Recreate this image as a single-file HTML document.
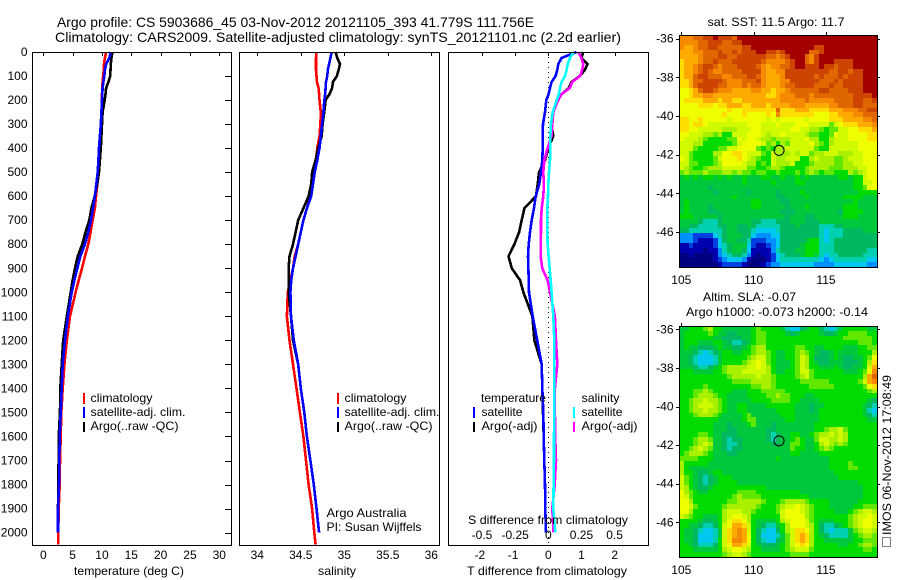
<!DOCTYPE html>
<html lang="en">
<head>
<meta charset="utf-8">
<title>Argo profile CS 5903686_45</title>
<style>
html,body{margin:0;padding:0;background:#fff;}
svg{display:block;}
text{font-family:"Liberation Sans",sans-serif;font-size:12px;fill:#000;}
.title{font-size:14px;}
</style>
</head>
<body>
<svg id="chart" xmlns="http://www.w3.org/2000/svg" width="900" height="580" viewBox="0 0 900 580">
  <text class="title" x="57" y="27" textLength="477" lengthAdjust="spacingAndGlyphs">Argo profile: CS 5903686_45 03-Nov-2012 20121105_393 41.779S 111.756E</text>
  <text class="title" x="55" y="42" textLength="566" lengthAdjust="spacingAndGlyphs">Climatology: CARS2009. Satellite-adjusted climatology: synTS_20121101.nc (2.2d earlier)</text>

  <g id="sstMap"></g>
  <g id="slaMap"></g>
  <g id="tempPanel"></g>
  <g id="salPanel"></g>
  <g id="diffPanel"></g>

  <text x="74" y="575" textLength="110" lengthAdjust="spacingAndGlyphs">temperature (deg C)</text>
  <text x="318" y="575" textLength="38" lengthAdjust="spacingAndGlyphs">salinity</text>
  <text x="467" y="575" textLength="160" lengthAdjust="spacingAndGlyphs">T difference from climatology</text>
  <text x="468" y="524" textLength="160" lengthAdjust="spacingAndGlyphs">S difference from climatology</text>

  <g>
    <rect x="83" y="393" width="2" height="11" fill="#f00"/>
    <rect x="83" y="407" width="2" height="11" fill="#00f"/>
    <rect x="83" y="422" width="2" height="10" fill="#000"/>
    <text x="90.5" y="402" textLength="62" lengthAdjust="spacingAndGlyphs">climatology</text>
    <text x="90.5" y="416" textLength="95" lengthAdjust="spacingAndGlyphs">satellite-adj. clim.</text>
    <text x="90.5" y="430" textLength="88" lengthAdjust="spacingAndGlyphs">Argo(..raw -QC)</text>
  </g>
  <g>
    <rect x="337" y="393" width="2" height="11" fill="#f00"/>
    <rect x="337" y="407" width="2" height="11" fill="#00f"/>
    <rect x="337" y="422" width="2" height="10" fill="#000"/>
    <text x="344.5" y="402" textLength="62" lengthAdjust="spacingAndGlyphs">climatology</text>
    <text x="344.5" y="416" textLength="95" lengthAdjust="spacingAndGlyphs">satellite-adj. clim.</text>
    <text x="344.5" y="430" textLength="88" lengthAdjust="spacingAndGlyphs">Argo(..raw -QC)</text>
  </g>
  <text x="326.5" y="517" textLength="80" lengthAdjust="spacingAndGlyphs">Argo Australia</text>
  <text x="326.5" y="531" textLength="95" lengthAdjust="spacingAndGlyphs">PI: Susan Wijffels</text>

  <g>
    <text x="481" y="402" textLength="65" lengthAdjust="spacingAndGlyphs">temperature</text>
    <rect x="473" y="407" width="2" height="11" fill="#00f"/>
    <text x="481.5" y="416" textLength="41" lengthAdjust="spacingAndGlyphs">satellite</text>
    <rect x="473" y="422" width="2" height="10" fill="#000"/>
    <text x="481.5" y="430" textLength="56" lengthAdjust="spacingAndGlyphs">Argo(-adj)</text>
    <text x="581.5" y="402" textLength="38" lengthAdjust="spacingAndGlyphs">salinity</text>
    <rect x="573" y="407" width="2" height="11" fill="#0ff"/>
    <text x="581.5" y="416" textLength="41" lengthAdjust="spacingAndGlyphs">satellite</text>
    <rect x="573" y="422" width="2" height="10" fill="#f0f"/>
    <text x="581.5" y="430" textLength="56" lengthAdjust="spacingAndGlyphs">Argo(-adj)</text>
  </g>

  <text x="707.5" y="26" textLength="137" lengthAdjust="spacingAndGlyphs">sat. SST: 11.5 Argo: 11.7</text>
  <text x="703" y="301" textLength="93" lengthAdjust="spacingAndGlyphs">Altim. SLA: -0.07</text>
  <text x="686" y="316" textLength="182" lengthAdjust="spacingAndGlyphs">Argo h1000: -0.073 h2000: -0.14</text>

  <rect x="882.5" y="537.5" width="8" height="9" fill="none" stroke="#000" stroke-width="1" stroke-dasharray="1 1" shape-rendering="crispEdges"/>
  <text transform="translate(891 535) rotate(-90)" textLength="160" lengthAdjust="spacingAndGlyphs">IMOS 06-Nov-2012 17:08:49</text>
</svg>
<script>
/* ---------- profile data ---------- */
const depths = [0,25,50,75,100,125,150,175,200,250,300,350,400,450,500,550,600,650,700,750,800,850,900,950,1000,1100,1200,1300,1400,1500,1600,1700,1800,1900,2000,2050];

const tempClim = [10.7,10.5,10.35,10.3,10.2,10.1,10.05,10.0,10.0,9.9,9.83,9.75,9.67,9.55,9.44,9.2,8.98,8.8,8.4,8.07,7.67,7.1,6.6,6.03,5.5,4.55,4.0,3.6,3.3,3.07,2.96,2.85,2.8,2.62,2.56,2.56];
const tempSat = [11.5,11.25,10.7,10.5,10.4,10.25,10.1,10.05,10.0,9.9,9.8,9.65,9.5,9.4,9.27,9.03,8.8,8.47,8.13,7.67,7.1,6.3,5.8,5.3,4.84,4.2,3.7,3.3,3.13,2.96,2.8,2.73,2.67,2.5,2.5];
const tempArgo = [11.8,11.6,11.5,11.45,11.4,11.1,10.7,10.6,10.46,10.1,10.0,9.9,9.8,9.65,9.5,9.2,8.76,8.2,7.84,7.2,6.65,5.86,5.4,5.0,4.67,4.0,3.4,3.13,2.9,2.85,2.62,2.6,2.55,2.5,2.5];

const salClim = [34.68,34.675,34.675,34.675,34.68,34.685,34.705,34.71,34.715,34.73,34.725,34.715,34.69,34.675,34.65,34.63,34.61,34.57,34.53,34.5,34.47,34.43,34.41,34.38,34.35,34.34,34.37,34.41,34.45,34.49,34.53,34.56,34.59,34.63,34.655,34.67];
const salSat = [34.855,34.84,34.825,34.81,34.805,34.79,34.785,34.78,34.77,34.76,34.745,34.73,34.715,34.69,34.66,34.64,34.62,34.57,34.53,34.5,34.47,34.44,34.41,34.39,34.38,34.387,34.42,34.47,34.5,34.54,34.57,34.61,34.65,34.68,34.71];
const salArgo = [34.9,34.92,34.95,34.935,34.915,34.87,34.86,34.83,34.785,34.77,34.75,34.74,34.7,34.67,34.63,34.62,34.59,34.53,34.47,34.44,34.41,34.37,34.36,34.36,34.36,34.387,34.41,34.47,34.5,34.54,34.57,34.61,34.65,34.68,34.71];

const diffTSat = [0.85,0.4,0.3,0.27,0.22,0.1,0.05,0.01,-0.06,-0.1,-0.16,-0.17,-0.17,-0.18,-0.22,-0.27,-0.38,-0.43,-0.5,-0.55,-0.59,-0.61,-0.6,-0.59,-0.58,-0.47,-0.33,-0.2,-0.18,-0.15,-0.14,-0.12,-0.1,-0.09,-0.07];
const diffTArgo = [1.05,1.0,1.18,1.1,0.95,0.7,0.62,0.4,0.25,0.15,0.08,0.15,0,-0.1,-0.28,-0.32,-0.37,-0.72,-0.8,-0.88,-1.02,-1.2,-1.1,-0.85,-0.75,-0.48,-0.42,-0.2,-0.18,-0.16,-0.14,-0.12,-0.1,-0.09,-0.07];
const diffSSat = [0.19,0.163,0.146,0.138,0.126,0.1,0.088,0.08,0.063,0.033,0.02,0.015,0.015,0.0125,0.005,0,-0.0025,-0.0075,-0.0075,-0.0075,-0.005,0.0025,0.01,0.018,0.025,0.038,0.045,0.045,0.045,0.045,0.043,0.043,0.04,0.038,0.053];
const diffSArgo = [0.226,0.25,0.264,0.256,0.24,0.18,0.163,0.1,0.075,0.038,0.03,0.025,-0.005,-0.03,-0.038,-0.033,-0.038,-0.05,-0.055,-0.055,-0.058,-0.058,-0.045,-0.005,0.0125,0.05,0.058,0.068,0.05,0.05,0.052,0.058,0.048,0.03,0.04];

/* ---------- tick values and labels ---------- */
const depthTicks = [0,100,200,300,400,500,600,700,800,900,1000,1100,1200,1300,1400,1500,1600,1700,1800,1900,2000];
const tempTicks = [0,5,10,15,20,25,30];
const salTicks = [34,34.5,35,35.5,36];
const diffTTicks = [-2,-1,0,1,2];
const diffSTicks = [-0.5,-0.25,0,0.25,0.5];
const lonTicks = [105,110,115];
const latTicks = [-36,-38,-40,-42,-44,-46];
const floatLon = [111.756];
const floatLat = [-41.779];

/* ---------- SST map, colour-scale step per cell (top row first) ---------- */
const sstCells = [
[15,15,15,16,16,17,17,18,17,17,17,16,18,18,18,18,18,18,18,18,18,18,18,18,18,18,18,18,18,18,18,18,18,18,18,18,18,18,18,18,18],
[15,15,15,15,16,16,17,17,17,16,16,17,17,18,18,18,18,18,18,18,18,18,18,18,18,18,18,18,18,18,18,18,18,18,18,18,18,18,18,18,18],
[15,14,14,15,16,16,17,17,16,16,16,16,16,17,17,18,18,18,18,18,18,18,18,18,18,18,18,18,17,17,18,18,18,18,18,18,18,18,18,18,18],
[14,14,14,15,15,16,16,16,17,16,16,17,16,17,17,17,18,18,17,17,16,17,18,18,18,18,18,16,16,17,18,18,18,18,18,18,18,18,18,18,18],
[14,14,14,14,15,16,16,16,17,17,16,16,17,17,17,17,17,17,16,16,15,16,17,18,18,18,16,15,17,18,18,18,18,18,18,18,18,18,18,18,18],
[13,14,14,14,15,16,16,17,16,16,16,17,17,17,17,17,17,16,15,15,15,15,16,17,18,18,16,15,17,18,18,18,17,17,17,17,18,18,18,18,18],
[13,14,14,15,16,17,17,16,15,16,16,16,17,17,17,17,16,15,14,15,15,16,16,17,18,18,17,17,17,18,17,17,16,17,17,17,18,18,18,18,18],
[13,14,14,15,16,17,16,15,15,16,16,16,16,17,17,17,17,15,14,14,15,15,17,17,17,17,17,17,17,17,17,16,16,17,17,16,17,17,18,18,18],
[13,14,14,16,17,17,16,16,16,15,15,16,16,16,17,17,16,15,14,14,14,15,17,17,17,17,17,17,16,17,16,16,16,17,16,17,17,17,18,18,18],
[13,13,14,16,16,17,17,17,17,16,15,15,15,16,16,16,17,15,14,14,14,15,15,17,17,17,17,17,17,16,16,16,17,16,17,17,17,17,18,18,18],
[13,13,14,16,17,17,17,17,16,16,15,15,15,16,15,16,16,15,14,14,14,15,16,16,17,17,17,17,16,16,16,17,16,16,17,17,17,17,18,18,18],
[12,12,13,14,16,17,17,16,15,15,15,14,14,14,14,15,15,14,14,13,14,14,15,16,16,16,16,16,16,17,17,16,16,16,16,17,17,17,18,18,18],
[12,12,13,14,14,15,15,14,14,14,14,14,14,14,14,14,14,14,13,13,14,15,15,15,16,16,16,15,16,16,16,16,16,16,16,16,17,17,17,17,18],
[12,13,13,13,13,14,14,14,13,14,14,13,13,14,14,14,14,14,14,14,14,15,15,15,15,15,16,15,15,15,15,15,16,16,16,16,17,17,16,16,17],
[12,12,12,12,13,13,13,12,13,13,14,14,14,13,13,14,14,14,13,14,14,14,14,15,15,15,14,14,14,14,14,15,15,16,16,16,17,17,16,16,16],
[12,12,12,12,12,12,12,12,12,12,13,12,12,13,13,13,13,13,13,13,16,13,13,13,14,14,14,13,13,13,13,14,14,14,15,15,15,16,16,17,17],
[12,12,12,12,12,12,12,12,12,13,12,12,12,13,12,12,12,12,13,12,15,13,13,13,13,13,13,13,12,12,12,13,13,14,14,14,15,15,16,16,16],
[13,13,12,12,13,12,12,12,12,12,11,12,12,12,12,12,12,12,11,12,11,12,12,12,12,12,11,12,12,12,12,13,13,13,14,14,14,14,15,15,16],
[13,13,12,13,13,12,11,11,11,11,11,11,11,11,12,12,12,11,11,11,12,11,11,11,12,12,12,11,11,11,11,9,11,12,13,13,13,14,14,14,15],
[13,13,12,12,11,11,11,11,11,10,10,10,11,11,11,12,12,11,11,11,11,11,11,12,12,11,11,10,10,9,8,9,9,11,11,12,12,13,13,13,14],
[12,12,11,11,11,10,10,9,10,8,8,11,11,11,12,12,12,11,10,11,11,12,11,11,11,11,10,9,9,8,8,9,12,11,11,12,12,12,12,13,13],
[12,11,11,11,10,9,8,8,8,8,9,9,12,11,12,12,11,10,10,9,10,10,10,11,11,11,12,10,10,8,8,10,11,11,11,12,12,12,12,13,13],
[11,11,11,10,10,8,8,8,8,8,8,9,11,12,12,12,12,11,9,10,8,10,9,11,11,11,11,12,10,9,8,10,11,11,11,11,11,12,12,12,12],
[11,11,11,9,8,8,8,8,9,9,11,11,12,12,12,12,9,8,9,8,10,10,11,11,11,11,11,11,9,8,8,11,11,11,11,11,11,12,12,12,12],
[11,11,9,8,8,8,8,10,10,12,12,13,13,12,11,11,11,9,8,11,10,10,10,11,10,11,11,9,10,10,11,11,11,10,10,10,11,11,12,12,12],
[12,11,9,8,8,8,8,9,11,12,12,12,13,12,11,10,9,8,8,11,10,10,11,11,11,8,8,10,11,10,10,10,9,9,10,11,11,11,12,12,12],
[11,11,9,9,8,8,8,9,10,12,12,12,12,11,10,10,8,9,8,11,10,10,10,11,8,8,8,9,10,10,10,10,9,9,10,10,11,11,12,12,12],
[11,10,9,8,8,9,10,10,10,11,11,11,11,11,9,9,8,8,9,10,10,9,8,8,8,8,9,10,10,10,10,9,9,9,10,10,10,11,11,12,12],
[9,10,9,9,9,10,9,9,9,10,10,9,10,9,9,8,9,9,8,8,9,8,8,8,9,8,9,10,9,8,9,9,8,8,8,10,9,10,11,12,12],
[7,8,7,8,7,8,8,7,8,7,8,7,7,8,7,7,7,8,8,7,7,8,7,7,8,7,8,7,7,7,7,7,7,8,8,7,8,8,11,12,12],
[7,7,7,7,7,7,7,7,7,7,7,7,7,8,7,7,7,7,7,8,7,7,7,7,8,8,7,7,7,7,7,7,7,7,7,7,8,8,11,11,12],
[7,7,7,7,7,7,6,7,7,7,7,7,7,7,7,7,7,7,7,7,7,7,7,7,7,7,7,7,7,7,7,7,7,7,7,7,8,8,9,12,12],
[7,7,7,7,7,7,7,6,7,7,7,7,7,7,6,7,7,7,7,7,6,7,7,7,7,8,7,7,7,7,7,7,7,7,7,7,7,8,8,8,8],
[7,7,7,7,7,7,7,7,7,7,7,8,7,7,7,7,7,7,7,7,6,6,7,7,7,7,8,7,7,7,7,7,7,7,8,8,8,8,7,7,7],
[7,8,7,7,7,7,7,7,7,7,7,7,7,7,7,8,8,7,7,7,7,6,6,7,7,7,7,7,7,7,7,7,7,7,7,7,8,7,7,7,7],
[7,8,7,7,7,7,6,7,7,7,7,7,7,7,7,8,8,7,7,7,7,7,6,7,7,7,8,7,7,7,7,7,7,7,8,8,8,7,7,7,7],
[7,8,7,7,7,7,6,6,7,7,7,7,7,7,7,7,7,7,7,7,7,6,6,6,7,7,7,7,7,7,7,7,7,6,8,8,8,8,7,7,7],
[8,8,8,7,7,7,7,7,6,7,7,7,7,7,7,7,7,7,7,7,7,7,6,7,7,7,6,6,7,7,7,7,7,7,8,8,8,7,7,7,7],
[7,7,7,7,6,5,5,5,6,7,7,7,7,7,7,6,6,5,5,5,6,6,6,7,7,7,6,6,6,7,7,7,7,7,7,7,7,7,7,7,7],
[7,7,6,6,5,5,5,5,6,6,7,7,6,6,7,6,5,5,5,5,5,6,6,6,7,6,6,6,6,5,5,5,6,6,7,7,7,7,7,7,7],
[6,6,5,5,5,5,5,5,5,6,7,7,6,6,6,5,4,4,4,4,5,6,6,6,6,6,6,6,6,5,4,5,5,5,6,6,6,6,7,7,7],
[3,3,3,2,2,2,2,4,5,6,7,7,7,6,6,4,3,3,3,4,4,6,6,6,6,6,6,6,6,5,4,5,5,5,6,6,6,6,6,6,6],
[3,3,3,2,1,1,1,2,4,6,7,7,6,6,5,2,2,2,3,3,4,6,6,6,6,6,7,8,8,5,4,5,6,6,6,6,6,6,6,6,6],
[1,1,2,1,1,1,1,2,4,5,6,7,7,7,4,2,1,1,2,3,4,6,6,6,6,7,8,8,8,5,5,5,6,6,6,6,6,6,6,6,6],
[1,1,1,1,1,0,1,1,3,5,6,7,7,6,4,1,1,1,1,3,5,6,6,6,7,7,8,8,8,5,5,5,6,6,6,6,6,6,6,5,5],
[0,0,1,0,0,0,0,1,3,4,5,6,6,5,3,1,0,1,1,2,4,5,6,6,6,7,8,8,7,5,4,5,5,6,6,6,6,6,5,5,5],
[0,0,0,0,0,0,0,1,2,3,4,4,4,3,1,0,0,0,1,2,4,5,5,5,5,5,5,5,5,4,3,4,5,5,5,5,5,5,5,4,4],
[0,0,0,0,0,0,0,0,1,2,2,2,2,1,0,0,0,1,2,3,3,4,4,4,4,4,4,4,3,3,3,3,4,4,4,4,4,4,4,3,3]
];

/* ---------- SLA map, colour-scale step per cell (top row first) ---------- */
const slaCells = [
[7,7,8,8,8,9,10,8,8,7,7,7,7,7,7,8,9,8,8,8,8,7,5,4,4,6,7,8,8,6,5,4,5,7,8,8,8,8,8,7,7],
[7,8,8,8,8,8,9,8,7,7,6,6,7,7,7,8,9,9,8,8,8,8,7,6,7,8,8,8,8,7,6,6,7,8,8,9,9,9,9,8,8],
[7,8,8,8,8,8,8,7,7,6,6,6,6,7,7,8,9,9,8,8,8,8,8,8,8,8,8,8,8,8,8,8,8,8,9,9,9,9,9,9,8],
[7,8,8,8,7,7,7,8,8,7,6,5,5,6,7,8,9,9,8,8,8,8,8,8,8,8,8,8,8,8,8,8,8,8,8,8,8,9,9,9,8],
[7,8,7,7,6,6,6,7,8,7,7,6,6,7,8,9,10,10,8,8,8,8,8,8,9,9,8,8,7,7,8,8,8,8,7,7,7,8,8,9,9],
[7,7,7,6,5,4,5,6,7,8,8,7,7,8,8,9,10,10,9,8,7,7,8,8,9,10,9,8,7,6,6,7,8,7,7,7,7,8,8,8,10],
[7,7,6,5,4,4,4,5,7,8,8,8,8,8,9,10,11,11,9,8,7,7,8,8,9,11,10,8,6,6,6,7,8,7,6,6,7,7,8,9,12],
[7,7,6,5,4,4,4,5,7,8,8,8,8,9,10,11,12,11,9,8,7,7,7,8,9,11,10,8,7,6,6,7,7,7,6,6,6,7,8,10,13],
[7,7,7,6,5,5,6,7,8,9,10,10,10,10,11,11,12,11,10,8,7,7,7,8,9,11,10,8,8,7,7,7,8,7,6,6,7,7,8,11,14],
[8,8,8,7,7,7,7,8,8,9,10,10,10,11,11,11,11,11,10,8,7,7,8,8,9,11,11,9,8,8,8,8,8,8,7,7,7,8,9,12,15],
[8,8,8,8,8,8,8,8,8,8,9,10,10,10,10,10,11,10,10,9,8,8,8,8,9,10,11,9,8,8,8,8,8,8,8,8,8,8,10,14,16],
[8,8,8,8,8,8,8,8,8,8,8,9,9,9,9,10,10,10,10,9,8,8,8,8,8,9,9,9,9,9,9,8,8,8,8,8,8,9,11,14,15],
[8,8,8,8,8,9,8,8,8,8,8,8,8,8,8,9,9,10,10,9,8,8,8,8,8,8,8,9,9,9,9,9,8,8,8,8,8,8,9,12,13],
[8,8,8,9,9,10,9,8,8,8,8,7,7,7,8,8,8,9,9,9,9,9,8,8,8,8,8,8,8,8,8,8,8,8,8,8,8,8,8,9,10],
[8,8,8,9,10,10,10,9,8,8,7,7,7,7,8,8,8,8,9,9,10,9,9,8,8,8,7,7,8,8,8,8,8,8,8,8,8,8,8,8,8],
[8,8,9,10,10,11,10,10,9,8,7,7,7,7,7,8,8,8,8,9,9,9,9,8,8,7,7,7,7,8,8,8,8,8,8,8,8,8,8,7,6],
[8,8,9,10,11,11,11,10,9,8,7,7,8,8,7,7,7,7,8,8,8,8,8,8,7,7,7,6,7,7,8,8,8,8,8,8,8,8,7,6,5],
[8,8,9,10,10,11,10,10,9,8,7,7,8,8,7,7,7,7,7,7,8,8,8,8,7,7,7,6,7,8,8,8,8,8,8,8,8,8,7,5,4],
[8,8,8,9,10,10,10,9,8,7,7,7,7,8,9,7,7,7,7,7,7,8,8,8,7,7,7,7,7,8,8,8,8,8,8,8,8,8,7,6,5],
[8,8,8,8,8,8,8,8,7,7,7,7,7,8,9,9,7,7,7,7,7,7,8,8,7,7,7,7,7,8,8,8,8,8,8,8,8,8,8,7,7],
[8,8,8,8,8,8,8,7,7,7,6,7,7,7,8,9,7,7,7,6,7,7,7,7,7,7,7,7,8,8,8,8,8,8,8,8,8,8,8,8,8],
[8,8,8,8,8,8,8,7,7,7,6,6,7,7,7,7,7,7,6,6,7,7,7,7,7,7,7,7,8,8,9,10,10,11,9,8,8,8,8,8,8],
[8,8,8,8,9,9,8,7,7,6,6,6,7,7,7,7,7,7,6,5,6,7,7,8,8,7,7,8,9,10,10,11,10,11,10,8,8,8,8,8,8],
[8,8,8,9,10,10,9,7,7,6,5,6,6,7,7,7,7,7,6,5,6,7,7,8,9,8,7,7,9,11,11,10,10,11,10,8,8,8,8,8,8],
[8,8,8,9,10,11,10,7,7,6,5,5,6,7,7,7,7,7,7,6,6,7,7,9,9,8,7,7,8,10,11,10,9,10,9,8,8,8,8,8,8],
[8,8,9,10,11,10,9,7,7,6,5,6,6,7,7,7,7,7,7,7,7,7,7,9,8,8,7,7,8,9,10,9,8,8,8,8,8,8,8,8,8],
[8,9,10,10,10,9,8,7,7,7,6,6,7,7,7,7,7,7,7,7,7,7,7,8,8,7,7,7,7,8,8,8,8,8,8,8,8,8,8,8,8],
[9,9,9,9,8,8,8,7,7,7,7,7,7,7,7,7,7,7,7,7,8,7,7,7,7,7,7,7,7,7,7,8,8,8,8,8,8,8,8,8,8],
[10,8,8,8,8,8,7,7,7,7,7,7,7,7,7,7,7,7,7,7,7,7,7,7,7,7,7,7,7,7,7,8,8,8,8,9,8,8,8,8,8],
[10,8,7,7,7,7,7,7,7,7,7,7,7,7,7,7,7,7,7,7,7,7,7,7,7,7,7,7,7,7,7,8,8,8,8,9,9,8,8,8,8],
[10,8,8,7,6,6,7,8,8,7,7,7,7,7,7,7,7,7,7,7,7,7,7,7,7,7,7,7,7,7,7,7,8,8,8,8,8,8,8,8,8],
[11,9,8,7,6,5,6,7,8,8,8,7,7,7,7,7,7,7,7,7,7,7,7,7,7,7,7,7,7,7,7,7,7,8,8,8,8,8,8,8,8],
[11,9,8,7,6,5,6,7,8,8,8,8,7,7,7,7,7,7,7,7,7,7,7,7,7,7,7,7,7,7,7,7,7,7,7,7,7,8,8,8,8],
[11,10,8,7,6,6,7,8,8,8,8,8,8,8,8,8,8,8,7,7,7,7,7,7,7,7,7,7,7,7,7,7,7,7,7,7,7,7,8,8,8],
[12,10,9,8,7,7,8,8,8,8,8,8,9,9,9,9,8,8,8,8,8,8,8,8,8,7,7,7,7,7,7,7,7,7,7,7,7,7,8,8,8],
[12,11,9,8,8,8,8,8,8,8,8,9,10,9,9,9,9,8,8,8,8,8,8,8,8,8,8,7,7,7,7,7,7,7,7,7,7,7,8,8,8],
[12,12,10,8,8,8,8,8,8,8,9,9,10,10,10,10,10,9,8,8,8,9,10,10,10,10,9,8,8,8,8,7,7,7,7,7,7,8,8,8,8],
[12,12,11,9,8,8,8,8,8,9,10,10,10,10,10,10,9,8,8,8,9,10,11,11,12,11,10,9,8,8,8,7,7,7,7,7,8,8,9,9,9],
[12,12,10,8,8,8,8,8,8,10,11,11,11,10,10,9,8,8,8,8,9,11,12,12,12,11,10,9,8,8,8,8,7,7,7,8,9,10,11,11,10],
[11,10,9,8,8,7,7,7,8,10,11,12,12,11,10,8,8,8,8,8,8,11,12,12,12,12,10,9,8,8,8,8,8,8,8,9,10,11,11,12,11],
[8,8,8,8,7,6,6,7,8,10,12,13,13,12,10,8,7,7,7,7,8,10,11,12,12,12,11,9,8,7,7,7,8,8,8,9,10,11,12,12,11],
[8,8,7,7,6,5,5,6,8,11,12,14,14,13,11,8,7,6,5,5,7,8,10,12,12,12,11,10,8,6,5,5,6,7,8,9,10,11,12,12,11],
[8,7,7,6,5,4,4,5,7,11,13,14,15,14,11,8,6,5,4,4,6,8,10,11,13,13,12,10,8,6,5,4,5,5,5,7,9,10,11,11,10],
[8,7,7,6,4,4,4,5,7,11,13,14,15,14,12,8,6,4,4,4,5,7,9,11,13,14,13,10,8,7,6,5,5,5,5,7,8,9,10,10,9],
[8,7,7,6,4,4,4,5,8,11,13,15,15,14,12,8,6,5,4,4,6,7,9,11,13,14,13,10,8,8,7,7,7,7,7,7,8,8,9,9,9],
[8,8,7,6,5,5,5,6,8,11,12,14,14,13,11,8,7,6,6,6,7,8,9,11,12,13,12,10,8,8,8,8,8,7,7,8,8,9,10,10,9],
[8,8,8,7,7,7,7,7,8,10,11,12,12,11,10,8,8,7,7,7,7,8,9,10,11,11,11,9,8,8,8,8,8,8,8,8,8,8,9,9,8],
[8,8,8,8,8,8,8,8,8,9,10,11,11,10,9,8,8,8,8,8,8,8,8,9,9,9,9,8,8,8,8,8,8,8,8,8,8,8,8,8,8]
];

/* ---------- colour scale shared by both maps ---------- */
const colourScale = ['#000080','#0000b0','#0040e0','#0090ff','#00c8f0','#00d0b0','#00b860','#00c83c','#00dc00','#60e800','#a8f000','#d0fa00','#f0ff00','#ffdd00','#ffaa00','#f58a00','#e06600','#cc4400','#a50000'];

const SVG_NS = 'http://www.w3.org/2000/svg';
const PROFILE_TOP = 52, PROFILE_BOTTOM = 545;
const yDepth = d => 52 + d * 0.2403;
const xTemp = t => 43.3 + t * 5.867;
const xSal = s => 257.3 + (s - 34) * 87;
const xDiffT = t => 548.3 + t * 33.2;
const xDiffS = s => 548.3 + s * 132.6;

function make(parent, tag, attrs, content) {
  const el = document.createElementNS(SVG_NS, tag);
  for (const k in attrs) el.setAttribute(k, attrs[k]);
  if (content !== undefined) el.textContent = content;
  parent.appendChild(el);
  return el;
}

function rule(parent, x1, y1, x2, y2) {
  const el = make(parent, 'line', {x1: x1, y1: y1, x2: x2, y2: y2, stroke: '#000', 'stroke-width': 1, 'shape-rendering': 'crispEdges'});
  
  
  return el;
}

function label(parent, x, y, str, anchor) {
  const el = make(parent, 'text', {x: x, y: y, 'text-anchor': anchor}, str);
  
  
  return el;
}

function frame(parent, x0, y0, x1, y1) {
  const el = make(parent, 'rect', {x: x0 + 0.5, y: y0 + 0.5, width: x1 - x0, height: y1 - y0, fill: 'none', stroke: '#000', 'stroke-width': 1, 'shape-rendering': 'crispEdges'});
  
  
  return el;
}

function profile(parent, values, xFn, colour, name) {
  const pts = values.map((v, i) => xFn(v).toFixed(1) + ',' + yDepth(depths[i]).toFixed(1)).join(' ');
  const el = make(parent, 'polyline', {points: pts, fill: 'none', stroke: colour, 'stroke-width': 2.6, 'shape-rendering': 'crispEdges'});
  
  
  return el;
}

/* temperature panel */
const tempPanel = document.getElementById('tempPanel');
profile(tempPanel, tempClim, xTemp, '#f00', 'temperature-climatology-line');
profile(tempPanel, tempArgo, xTemp, '#000', 'temperature-argo-line');
profile(tempPanel, tempSat, xTemp, '#00f', 'temperature-satellite-line');
frame(tempPanel, 32, PROFILE_TOP, 231, PROFILE_BOTTOM);
depthTicks.forEach(d => {
  if (d > 0) rule(tempPanel, 225, Math.round(yDepth(d)) + 0.5, 231, Math.round(yDepth(d)) + 0.5);
  label(tempPanel, 27.5, yDepth(d) + 4, String(d), 'end');
});
tempTicks.forEach(t => {
  rule(tempPanel, Math.round(xTemp(t)) + 0.5, PROFILE_TOP, Math.round(xTemp(t)) + 0.5, PROFILE_TOP + 4);
  label(tempPanel, xTemp(t), 559, String(t), 'middle');
});

/* salinity panel */
const salPanel = document.getElementById('salPanel');
profile(salPanel, salClim, xSal, '#f00', 'salinity-climatology-line');
profile(salPanel, salArgo, xSal, '#000', 'salinity-argo-line');
profile(salPanel, salSat, xSal, '#00f', 'salinity-satellite-line');
frame(salPanel, 239, PROFILE_TOP, 439, PROFILE_BOTTOM);
salTicks.forEach(s => {
  rule(salPanel, Math.round(xSal(s)) + 0.5, PROFILE_TOP, Math.round(xSal(s)) + 0.5, PROFILE_TOP + 4);
  label(salPanel, xSal(s), 559, String(s), 'middle');
});

/* difference panel */
const diffPanel = document.getElementById('diffPanel');
const zeroLine = make(diffPanel, 'line', {x1: 548.5, y1: PROFILE_TOP, x2: 548.5, y2: PROFILE_BOTTOM, stroke: '#000', 'stroke-width': 1, 'stroke-dasharray': '1 4', 'shape-rendering': 'crispEdges'});


profile(diffPanel, diffTArgo, xDiffT, '#000', 'difference-t-argo-line');
profile(diffPanel, diffTSat, xDiffT, '#00f', 'difference-t-satellite-line');
profile(diffPanel, diffSArgo, xDiffS, '#f0f', 'difference-s-argo-line');
profile(diffPanel, diffSSat, xDiffS, '#0ff', 'difference-s-satellite-line');
frame(diffPanel, 448, PROFILE_TOP, 648, PROFILE_BOTTOM);
diffTTicks.forEach(t => {
  rule(diffPanel, Math.round(xDiffT(t)) + 0.5, PROFILE_TOP, Math.round(xDiffT(t)) + 0.5, PROFILE_TOP + 4);
  label(diffPanel, xDiffT(t) - (t < 0 ? 2 : 0), 559, String(t), 'middle');
});
diffSTicks.forEach(s => {
  label(diffPanel, xDiffS(s), 539, String(s), 'middle');
});

/* maps */
const MAP_COLS = 41, MAP_ROWS = 48;
function drawMap(parent, cells, cellName, box, markerName) {
  const xLon = lon => 681.3 + (lon - 105) * 14.47;
  const yLat = lat => box.y36 + (-36 - lat) * box.pxPerDeg;
  const lonEdge = c => box.x0 + (box.x1 - box.x0) * c / MAP_COLS;
  const rowEdge = r => box.y0 + (box.y1 - box.y0) * r / MAP_ROWS;
  cells.forEach((row, r) => {
    row.forEach((v, c) => {
      const x = Math.round(lonEdge(c));
      const y = Math.round(rowEdge(r));
      const cell = make(parent, 'rect', {x: x, y: y, width: Math.round(lonEdge(c + 1)) - x, height: Math.round(rowEdge(r + 1)) - y, fill: colourScale[v], 'shape-rendering': 'crispEdges'});
      
      
    });
  });
  frame(parent, box.x0, box.y0, box.x1, box.y1);
  lonTicks.forEach(lon => {
    const x = Math.round(xLon(lon)) + 0.5;
    rule(parent, x, box.y0 - 3, x, box.y0);
    label(parent, xLon(lon), box.labelY, String(lon), 'middle');
  });
  latTicks.forEach(lat => {
    const y = Math.round(yLat(lat)) + 0.5;
    rule(parent, box.x0 - 3, y, box.x0, y);
    rule(parent, box.x1, y, box.x1 + 3, y);
    label(parent, 673.5, yLat(lat) + 4, String(lat), 'end');
  });
  const marker = make(parent, 'circle', {cx: xLon(floatLon[0]), cy: yLat(floatLat[0]), r: 5, fill: 'none', stroke: '#000', 'stroke-width': 1});
  
  
}
drawMap(document.getElementById('sstMap'), sstCells, 'sst-cell', {x0: 679, x1: 877, y0: 35, y1: 267, y36: 38.7, pxPerDeg: 19.33, labelY: 284}, 'sst-float-marker');
drawMap(document.getElementById('slaMap'), slaCells, 'sla-cell', {x0: 679, x1: 877, y0: 326, y1: 557, y36: 329.3, pxPerDeg: 19.3, labelY: 574}, 'sla-float-marker');
</script>
</body>
</html>
